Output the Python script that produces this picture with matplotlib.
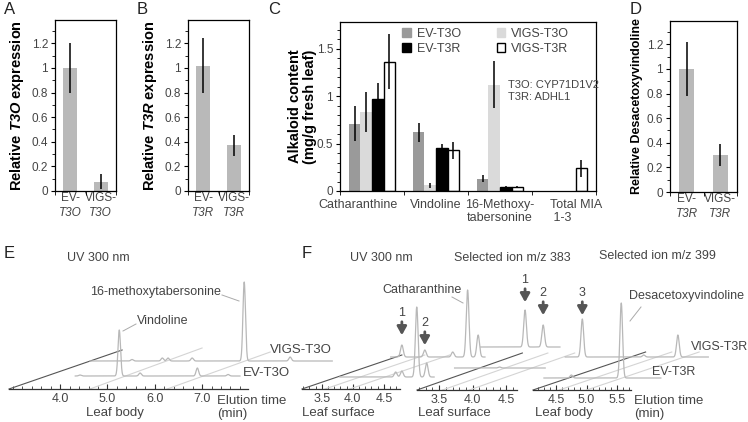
import numpy as np
import matplotlib.pyplot as plt
import matplotlib.transforms as mtransforms
from matplotlib.patches import Patch
from matplotlib.lines import Line2D

plt.rcParams['font.family'] = ['Liberation Sans', 'DejaVu Sans']
plt.rcParams['mathtext.fontset'] = 'custom'
plt.rcParams['mathtext.rm'] = 'Liberation Sans'
plt.rcParams['mathtext.it'] = 'Liberation Sans:italic'
plt.rcParams['mathtext.bf'] = 'Liberation Sans:bold'
plt.rcParams['mathtext.bfit'] = 'Liberation Sans:italic:bold'

W, H = 748, 422
TXT = '#444444'

# ---- panels A, B, D: relative expression / content ----
genotypes = ['EV-', 'VIGS-']
A_gene = 'T3O'
A_vals = [1.0, 0.075]
A_err = [0.20, 0.06]
B_gene = 'T3R'
B_vals = [1.02, 0.37]
B_err = [0.22, 0.085]
D_gene = 'T3R'
D_vals = [1.0, 0.30]
D_err = [0.22, 0.09]

# ---- panel C: alkaloid content (mg/g fresh leaf) ----
C_categories = ['Catharanthine', 'Vindoline', '16-Methoxy-\ntabersonine', 'Total MIA\n 1-3']
C_series = ['EV-T3O', 'VIGS-T3O', 'EV-T3R', 'VIGS-T3R']
C_ev_t3o = [0.71, 0.62, 0.13, 0]
C_ev_t3o_err = [0.18, 0.10, 0.035, 0]
C_vigs_t3o = [0.83, 0.06, 1.12, 0]
C_vigs_t3o_err = [0.21, 0.025, 0.25, 0]
C_ev_t3r = [0.97, 0.45, 0.04, 0]
C_ev_t3r_err = [0.17, 0.05, 0.01, 0]
C_vigs_t3r = [1.36, 0.43, 0.04, 0.24]
C_vigs_t3r_err = [0.29, 0.09, 0.01, 0.09]

# ---- panels E, F: chromatograms (peak times in min, peak heights) ----
E_ev_t3o_span = (4.32, 7.80)
E_ev_t3o_t = [4.42, 5.25, 5.69, 6.90, 7.55]
E_ev_t3o_h = [1, 46, 3, 8, 1.5]
E_vigs_t3o_span = (4.63, 9.75)
E_vigs_t3o_t = [5.52, 6.16, 6.28, 6.79, 7.89, 8.86]
E_vigs_t3o_h = [1.5, 3, 3, 3, 79, 4]

F1_ev_span = (3.79, 5.31)
F1_ev_t = [4.69, 4.79, 5.03, 5.19]
F1_ev_h = [5, 6, 70, 14]
F1_vigs_span = (4.61, 6.13)
F1_vigs_t = [4.79, 5.16, 5.61, 5.85, 6.02]
F1_vigs_h = [12, 7, 5, 67, 22]

F2_ev_span = (3.73, 5.08)
F2_ev_t = [4.40]
F2_ev_h = [1]
F2_vigs_span = (4.12, 5.30)
F2_vigs_t = [4.78, 5.05]
F2_vigs_h = [37, 22]

F3_ev_span = (4.30, 6.22)
F3_ev_t = [4.75, 5.57]
F3_ev_h = [3, 75]
F3_vigs_span = (4.65, 7.00)
F3_vigs_t = [4.93, 5.94, 6.50]
F3_vigs_h = [38, 2, 22]

fig = plt.figure(figsize=(W / 100, H / 100), dpi=100)


def px_axes(l, t, r, b):
    return fig.add_axes([l / W, 1 - b / H, (r - l) / W, (b - t) / H])


def ftext(x, y, s, **kw):
    kw.setdefault('color', TXT)
    kw.setdefault('fontsize', 9)
    kw.setdefault('va', 'center')
    fig.text(x / W, 1 - y / H, s, **kw)


def fline(xs, ys, **kw):
    fig.add_artist(Line2D([x / W for x in xs], [1 - y / H for y in ys],
                          transform=fig.transFigure, **kw))


def style_bar_axes(ax, ymax, yticks):
    ax.set_ylim(0, ymax)
    ax.set_yticks(yticks)
    ax.set_yticklabels(['%g' % v for v in yticks])
    ax.set_yticks(np.arange(0, ymax, 0.1), minor=True)
    ax.tick_params(axis='y', which='both', direction='out', length=3,
                   labelsize=8.5, labelcolor=TXT, pad=2)
    ax.tick_params(axis='y', which='minor', length=2)
    for s in ax.spines.values():
        s.set_linewidth(0.9)


def small_panel(ax, vals, err, gene, ylabel):
    x = np.arange(len(vals))
    ax.bar(x, vals, width=0.46, color='#b9b9b9')
    ax.errorbar(x, vals, yerr=err, fmt='none', ecolor='black', elinewidth=1.1)
    ax.set_xlim(-0.5, 1.5)
    style_bar_axes(ax, 1.39, [0, 0.2, 0.4, 0.6, 0.8, 1, 1.2])
    ax.set_xticks(x)
    ax.set_xticklabels(genotypes)
    ax.set_xticks([-0.5, 0.5, 1.5], minor=True)
    ax.tick_params(axis='x', which='major', length=0, labelsize=8.5,
                   labelcolor=TXT, pad=1)
    ax.tick_params(axis='x', which='minor', direction='out', length=3)
    for xi in x:
        ax.text(xi, -0.13, gene, transform=ax.get_xaxis_transform(),
                ha='center', va='center', fontsize=8.5, style='italic', color=TXT)
    ax.set_ylabel(ylabel, fontsize=10.5, fontweight='bold')


# A
axA = px_axes(55, 20, 116, 191)
small_panel(axA, A_vals, A_err, A_gene, 'Relative $\\mathbfit{T3O}$ expression')
axA.yaxis.set_label_coords(-0.48, 0.5)
ftext(4, 10, 'A', fontsize=12, color='#222222')

# B
axB = px_axes(188, 20, 249, 191)
small_panel(axB, B_vals, B_err, B_gene, 'Relative $\\mathbfit{T3R}$ expression')
axB.yaxis.set_label_coords(-0.48, 0.5)
ftext(137, 10, 'B', fontsize=12, color='#222222')

# D
axD = px_axes(670, 21, 737, 192)
small_panel(axD, D_vals, D_err, D_gene, 'Relative Desacetoxyvindoline')
axD.yaxis.label.set_fontsize(9)
axD.yaxis.set_label_coords(-0.4, 0.5)
ftext(630, 10, 'D', fontsize=12, color='#222222')

# C
axC = px_axes(340, 22, 596, 191)
xc = np.arange(len(C_categories))
bw = 0.18
c_vals = [C_ev_t3o, C_vigs_t3o, C_ev_t3r, C_vigs_t3r]
c_errs = [C_ev_t3o_err, C_vigs_t3o_err, C_ev_t3r_err, C_vigs_t3r_err]
c_face = ['#9a9a9a', '#dadada', 'black', 'white']
c_edge = ['none', 'none', 'black', 'black']
for i, (v, e) in enumerate(zip(c_vals, c_errs)):
    pos = xc + (i - 1.5) * bw
    v = np.array(v)
    e = np.array(e)
    keep = v > 0
    axC.bar(pos[keep], v[keep], width=bw, color=c_face[i], edgecolor=c_edge[i],
            linewidth=1.0, label=C_series[i])
    axC.errorbar(pos[keep], v[keep], yerr=e[keep], fmt='none', ecolor='black',
                 elinewidth=1.1)
axC.set_xlim(-0.5, 3.5)
style_bar_axes(axC, 1.78, [0, 0.5, 1, 1.5])
axC.set_xticks(xc)
axC.set_xticklabels(C_categories, linespacing=1.1)
axC.set_xticks([-0.5, 0.5, 1.5, 2.5, 3.5], minor=True)
axC.tick_params(axis='x', which='major', length=0, labelsize=9,
                labelcolor=TXT, pad=6)
axC.tick_params(axis='x', which='minor', direction='out', length=3)
xlabs = axC.get_xticklabels()
xlabs[-1].set_multialignment('left')
for lab, shift in [(xlabs[0], -14), (xlabs[-1], 12)]:
    lab.set_transform(lab.get_transform() +
                      mtransforms.ScaledTranslation(shift / 100, 0, fig.dpi_scale_trans))
axC.set_ylabel('Alkaloid content\n(mg/g fresh leaf)', fontsize=10.5,
               fontweight='bold', linespacing=1.1)
axC.yaxis.set_label_coords(-0.09, 0.5)
handles = [Patch(facecolor=c_face[i], edgecolor=c_edge[i] if c_edge[i] != 'none' else c_face[i])
           for i in [0, 2, 1, 3]]
labels = [C_series[i] for i in [0, 2, 1, 3]]
leg = axC.legend(handles, labels, ncol=2, loc='upper left',
                 bbox_to_anchor=(0.2, 1.03), frameon=False, fontsize=9,
                 handlelength=0.7, handleheight=0.7, handletextpad=0.45,
                 columnspacing=2.85, labelspacing=0.2, labelcolor=TXT)
axC.text(0.655, 0.59, 'T3O: CYP71D1V2\nT3R: ADHL1', transform=axC.transAxes,
         fontsize=8, color=TXT, va='center', linespacing=1.3)
ftext(268, 10, 'C', fontsize=12, color='#222222')

# ---- chromatograms ----
TRACE = '#b8b8b8'
DARK = '#555555'
FLOOR = '#d4d4d4'


def chrom_axes(l, r, b, t0, t1, major, minor_step):
    ax = px_axes(l, 250, r, b)
    ax.set_xlim(t0, t1)
    ax.set_ylim(0, b - 250)
    ax.patch.set_alpha(0)
    for s in ['top', 'right', 'left']:
        ax.spines[s].set_visible(False)
    ax.spines['bottom'].set_linewidth(0.9)
    ax.spines['bottom'].set_color('#333333')
    ax.set_yticks([])
    ax.set_xticks(major)
    ax.set_xticklabels(['%.1f' % m for m in major])
    ax.set_xticks(np.arange(np.ceil(t0 / minor_step) * minor_step, t1, minor_step),
                  minor=True)
    ax.tick_params(axis='x', which='both', direction='in', length=2.5,
                   color='#333333', labelsize=9, labelcolor=TXT, pad=3)
    ax.tick_params(axis='x', which='major', length=3.5)
    return ax


def trace(ax, span, pk_t, pk_h, dy, sigma):
    t = np.linspace(span[0], span[1], 2000)
    y = np.full_like(t, float(dy))
    for pt, ph in zip(pk_t, pk_h):
        y += ph * np.exp(-0.5 * ((t - pt) / sigma) ** 2)
    ax.plot(t, y, color=TRACE, lw=0.9, clip_on=False)


def depth_line(ax, t0, dt, dy, color, lw):
    ax.plot([t0, t0 + dt], [0, dy], color=color, lw=lw, clip_on=False)


# E
axE = chrom_axes(9, 248, 389, 2.92, 7.97, [4.0, 5.0, 6.0, 7.0], 0.2)
depth_line(axE, 2.92, 2.39, 39, DARK, 0.8)
depth_line(axE, 4.63, 2.37, 41, FLOOR, 0.8)
depth_line(axE, 6.26, 2.18, 37, FLOOR, 0.8)
trace(axE, E_vigs_t3o_span, E_vigs_t3o_t, E_vigs_t3o_h, 28, 0.027)
trace(axE, E_ev_t3o_span, E_ev_t3o_t, E_ev_t3o_h, 13, 0.027)
ftext(4, 254, 'E', fontsize=12, color='#222222')
ftext(67, 258, 'UV 300 nm')
ftext(90, 292, '16-methoxytabersonine')
fline([222, 239], [295, 301], color='#aaaaaa', lw=0.7)
ftext(137, 321, 'Vindoline')
fline([123, 136], [331, 324], color='#aaaaaa', lw=0.7)
ftext(270, 350, 'VIGS-T3O', fontsize=9.5)
ftext(243, 373, 'EV-T3O', fontsize=9.5)
ftext(115, 413, 'Leaf body', ha='center', fontsize=9.5)
ftext(217, 401, 'Elution time', fontsize=9.5)
ftext(217, 414, '(min)', fontsize=9.5)

# F1: UV 300 nm, leaf surface
axF1 = chrom_axes(302, 400, 389, 3.18, 4.76, [3.5, 4.0, 4.5], 0.1)
depth_line(axF1, 3.18, 1.61, 34, DARK, 0.8)
depth_line(axF1, 3.55, 1.61, 34, FLOOR, 0.8)
depth_line(axF1, 3.95, 1.61, 34, FLOOR, 0.8)
trace(axF1, F1_vigs_span, F1_vigs_t, F1_vigs_h, 32, 0.022)
trace(axF1, F1_ev_span, F1_ev_t, F1_ev_h, 12, 0.022)

# F2: selected ion m/z 383, leaf surface
axF2 = chrom_axes(417, 517, 390, 3.17, 4.66, [3.5, 4.0, 4.5], 0.1)
depth_line(axF2, 3.17, 1.57, 37, DARK, 0.8)
depth_line(axF2, 3.55, 1.57, 37, FLOOR, 0.8)
depth_line(axF2, 3.95, 1.57, 37, FLOOR, 0.8)
trace(axF2, F2_vigs_span, F2_vigs_t, F2_vigs_h, 43, 0.02)
trace(axF2, F2_ev_span, F2_ev_t, F2_ev_h, 22, 0.02)

# F3: selected ion m/z 399, leaf body
axF3 = chrom_axes(533, 631, 390, 4.12, 5.73, [4.5, 5.0, 5.5], 0.1)
depth_line(axF3, 4.12, 1.85, 38, DARK, 0.8)
depth_line(axF3, 4.55, 1.85, 38, FLOOR, 0.8)
depth_line(axF3, 5.0, 1.85, 38, FLOOR, 0.8)
trace(axF3, F3_vigs_span, F3_vigs_t, F3_vigs_h, 33, 0.022)
trace(axF3, F3_ev_span, F3_ev_t, F3_ev_h, 12, 0.022)

# arrows marking new peaks
arrow_kw = dict(arrowstyle='-|>,head_width=0.28,head_length=0.5', color='#555555', lw=2.0)
for ax, pt, tip, lab in [(axF1, 4.79, 51, '1'), (axF1, 5.16, 41, '2'),
                         (axF2, 4.78, 85, '1'), (axF2, 5.05, 72, '2'),
                         (axF3, 4.93, 72, '3')]:
    ax.annotate('', xy=(pt, tip), xytext=(pt, tip + 19), arrowprops=arrow_kw,
                annotation_clip=False)
    ax.text(pt, tip + 25, lab, ha='center', va='center', fontsize=9, color=TXT,
            clip_on=False)

ftext(302, 254, 'F', fontsize=12, color='#222222')
ftext(350, 258, 'UV 300 nm')
ftext(454, 258, 'Selected ion m/z 383')
ftext(599, 256, 'Selected ion m/z 399')
ftext(382, 290, 'Catharanthine')
fline([452, 463], [297, 303], color='#aaaaaa', lw=0.7)
ftext(629, 296, 'Desacetoxyvindoline', fontsize=9)
fline([641, 630], [307, 321], color='#aaaaaa', lw=0.7)
ftext(691, 347, 'VIGS-T3R', fontsize=9)
ftext(652, 372, 'EV-T3R', fontsize=9)
ftext(338, 413, 'Leaf surface', ha='center', fontsize=9.5)
ftext(454, 413, 'Leaf surface', ha='center', fontsize=9.5)
ftext(564, 413, 'Leaf body', ha='center', fontsize=9.5)
ftext(634, 401, 'Elution time', fontsize=9.5)
ftext(634, 414, '(min)', fontsize=9.5)

fig.savefig('out.png', dpi=100)
